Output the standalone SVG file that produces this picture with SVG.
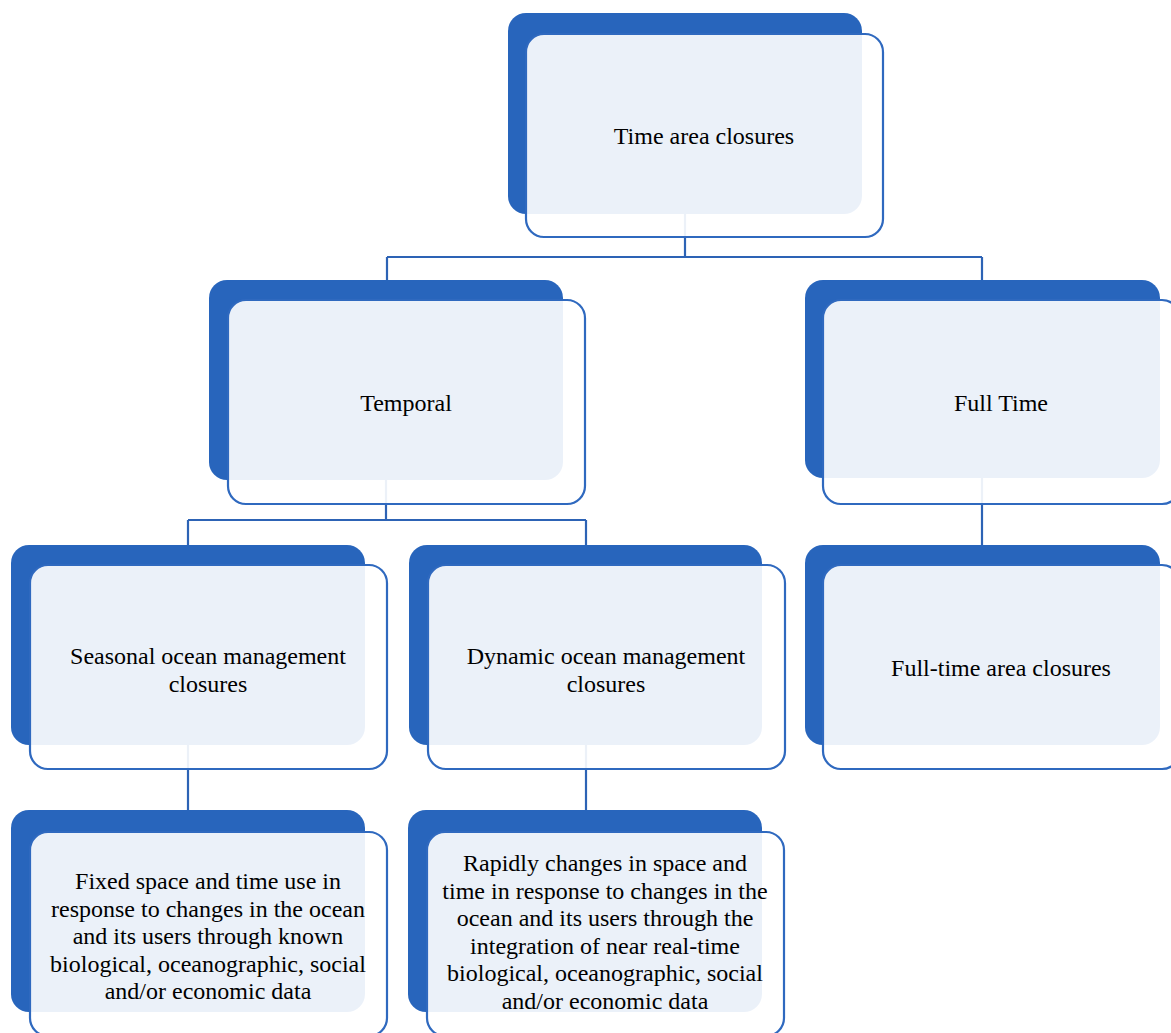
<svg xmlns="http://www.w3.org/2000/svg" width="1171" height="1033" viewBox="0 0 1171 1033">
<style>
.back{fill:#2865bc;}
.front{fill:#ffffff;fill-opacity:0.91;stroke:#2f69bf;stroke-width:2.2;}
.conn{fill:none;stroke:#2d63b5;stroke-width:2.2;}
text{font-family:"Liberation Serif","Times New Roman",serif;font-size:24px;fill:#000;text-anchor:middle;}
</style>
<rect width="1171" height="1033" fill="#ffffff"/>
<g id="connectors">
<path class="conn" d="M685 214 V257 M387 257 H982 M387 257 V280 M982 257 V280"/>
<path class="conn" d="M386 480 V520 M188 520 H586 M188 520 V545 M586 520 V545"/>
<path class="conn" d="M982 478 V545"/>
<path class="conn" d="M188 745 V810"/>
<path class="conn" d="M586 745 V810"/>
</g>
<g id="node-time-area-closures">
<rect class="back" x="508" y="13" width="354" height="201" rx="18"/>
<rect class="front" x="526" y="34" width="357" height="203" rx="18"/>
<text x="704" y="144">Time area closures</text>
</g>
<g id="node-temporal">
<rect class="back" x="209" y="280" width="354" height="200" rx="18"/>
<rect class="front" x="228" y="300" width="357" height="204" rx="18"/>
<text x="406" y="411">Temporal</text>
</g>
<g id="node-full-time">
<rect class="back" x="805" y="280" width="355" height="198" rx="18"/>
<rect class="front" x="823" y="300" width="357" height="204" rx="18"/>
<text x="1001" y="411">Full Time</text>
</g>
<g id="node-seasonal">
<rect class="back" x="11" y="545" width="354" height="200" rx="18"/>
<rect class="front" x="30" y="565" width="357" height="204" rx="18"/>
<text x="208" y="664">Seasonal ocean management</text>
<text x="208" y="692">closures</text>
</g>
<g id="node-dynamic">
<rect class="back" x="409" y="545" width="353" height="200" rx="18"/>
<rect class="front" x="428" y="565" width="357" height="204" rx="18"/>
<text x="606" y="664">Dynamic ocean management</text>
<text x="606" y="692">closures</text>
</g>
<g id="node-full-time-area-closures">
<rect class="back" x="805" y="545" width="355" height="200" rx="18"/>
<rect class="front" x="823" y="565" width="357" height="204" rx="18"/>
<text x="1001" y="676">Full-time area closures</text>
</g>
<g id="node-seasonal-desc">
<rect class="back" x="11" y="810" width="354" height="202" rx="18"/>
<rect class="front" x="30" y="832" width="357" height="204" rx="18"/>
<text x="208" y="889">Fixed space and time use in</text>
<text x="208" y="917">response to changes in the ocean</text>
<text x="208" y="944">and its users through known</text>
<text x="208" y="972">biological, oceanographic, social</text>
<text x="208" y="999">and/or economic data</text>
</g>
<g id="node-dynamic-desc">
<rect class="back" x="408" y="810" width="354" height="202" rx="18"/>
<rect class="front" x="427" y="832" width="357" height="204" rx="18"/>
<text x="605" y="871">Rapidly changes in space and</text>
<text x="605" y="899">time in response to changes in the</text>
<text x="605" y="926">ocean and its users through the</text>
<text x="605" y="954">integration of near real-time</text>
<text x="605" y="981">biological, oceanographic, social</text>
<text x="605" y="1009">and/or economic data</text>
</g>
</svg>
